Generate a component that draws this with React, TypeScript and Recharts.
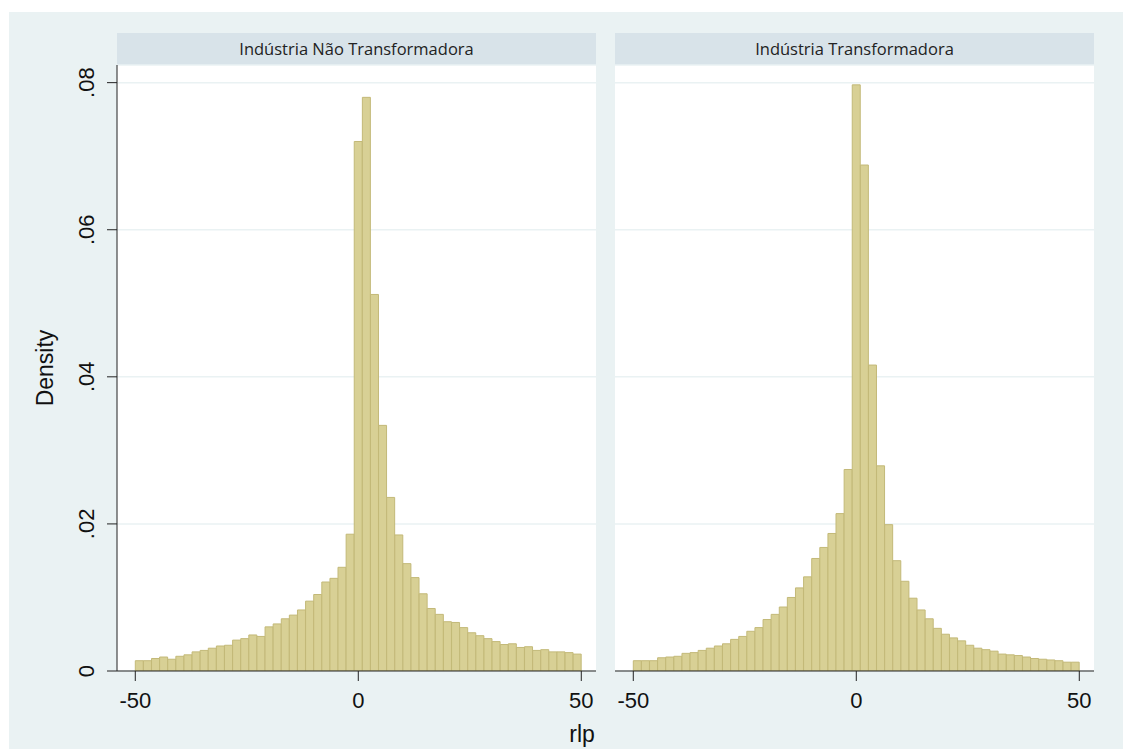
import { BarChart, Bar, XAxis, YAxis, CartesianGrid } from 'recharts';

// 55 equal bins from -50 to 50 (bin centres)
const binCenters = [
  -49.09, -47.27, -45.45, -43.64, -41.82, -40.0, -38.18, -36.36, -34.55, -32.73, -30.91,
  -29.09, -27.27, -25.45, -23.64, -21.82, -20.0, -18.18, -16.36, -14.55, -12.73, -10.91,
  -9.09, -7.27, -5.45, -3.64, -1.82, 0, 1.82, 3.64, 5.45, 7.27, 9.09, 10.91, 12.73, 14.55,
  16.36, 18.18, 20.0, 21.82, 23.64, 25.45, 27.27, 29.09, 30.91, 32.73, 34.55, 36.36, 38.18,
  40.0, 41.82, 43.64, 45.45, 47.27, 49.09,
];

const naoTransformadora = [
  0.0014, 0.0014, 0.0017, 0.0019, 0.0016, 0.002, 0.0022, 0.0026, 0.0028, 0.0031, 0.0034,
  0.0035, 0.0042, 0.0044, 0.0049, 0.0047, 0.006, 0.0064, 0.0071, 0.0076, 0.0083, 0.0095,
  0.0104, 0.0121, 0.0126, 0.0141, 0.0186, 0.072, 0.078, 0.0512, 0.0334, 0.0236, 0.0185,
  0.0146, 0.0127, 0.0105, 0.0085, 0.0077, 0.0067, 0.0066, 0.0059, 0.0052, 0.0048, 0.0044,
  0.004, 0.0036, 0.0037, 0.0032, 0.0033, 0.0028, 0.0029, 0.0026, 0.0026, 0.0025, 0.0023,
];

const transformadora = [
  0.0014, 0.0014, 0.0014, 0.0018, 0.0019, 0.002, 0.0024, 0.0025, 0.0028, 0.0031, 0.0034,
  0.0037, 0.0043, 0.0047, 0.0054, 0.0059, 0.007, 0.0077, 0.0087, 0.01, 0.0113, 0.0128,
  0.0153, 0.0168, 0.0187, 0.0214, 0.0274, 0.0797, 0.0688, 0.0416, 0.0279, 0.0199, 0.015,
  0.0122, 0.0099, 0.0083, 0.0071, 0.0058, 0.005, 0.0045, 0.0041, 0.0035, 0.0031, 0.0029,
  0.0027, 0.0023, 0.0022, 0.0021, 0.0019, 0.0017, 0.0016, 0.0015, 0.0014, 0.0012, 0.0012,
];

const xTicks = [-50, 0, 50];
const yTicks = [0, 0.02, 0.04, 0.06, 0.08];
const panelTitles = ['Indústria Não Transformadora', 'Indústria Transformadora'];

const BG = '#eaf2f3';
const STRIP = '#d8e3e9';
const BAR_FILL = '#d8d095';
const BAR_LINE = '#c3b978';
const AXIS = '#222';
const FONT = "'Liberation Sans', Arial, sans-serif";

const toRows = (values: number[]) => binCenters.map((x, i) => ({ x, density: values[i] }));

function XTick({ x, y, payload }: any) {
  return (
    <text x={x} y={y + 25} textAnchor="middle" fontSize={22} fontFamily={FONT} fill="#111">
      {payload.value}
    </text>
  );
}

function YTick({ x, y, payload }: any) {
  const label = payload.value === 0 ? '0' : String(payload.value).replace(/^0/, '');
  const bx = x - 11;
  return (
    <text
      x={bx}
      y={y}
      transform={`rotate(-90 ${bx} ${y})`}
      textAnchor="middle"
      fontSize={22}
      fontFamily={FONT}
      fill="#111"
    >
      {label}
    </text>
  );
}

function Panel({ values, withYAxis }: { values: number[]; withYAxis: boolean }) {
  return (
    <BarChart
      width={withYAxis ? 610 : 500}
      height={749}
      data={toRows(values)}
      margin={{ top: 65, right: withYAxis ? 14 : 21, left: 0, bottom: 0 }}
      barCategoryGap={0}
      barGap={0}
    >
      <CartesianGrid vertical={false} stroke={BG} strokeWidth={1.5} fill="#fff" />
      <XAxis
        dataKey="x"
        type="number"
        domain={[-54.1, 53.3]}
        ticks={xTicks}
        height={78}
        tickSize={10}
        tick={<XTick />}
        stroke={AXIS}
        interval={0}
        allowDataOverflow
      />
      <YAxis
        type="number"
        domain={[0, 0.0824]}
        ticks={yTicks}
        width={117}
        hide={!withYAxis}
        tickSize={10}
        tick={<YTick />}
        stroke={AXIS}
        interval={0}
        allowDataOverflow
      />
      <Bar
        dataKey="density"
        fill={BAR_FILL}
        stroke={BAR_LINE}
        strokeWidth={1}
        isAnimationActive={false}
      />
    </BarChart>
  );
}

export default function App() {
  return (
    <div style={{ position: 'absolute', left: 0, top: 0, width: 1123, height: 749, background: '#fff', overflow: 'hidden' }}>
      <div style={{ position: 'absolute', left: 9, top: 12, width: 1114, height: 737, background: BG }} />
      {panelTitles.map((t, i) => (
        <div
          key={t}
          style={{
            position: 'absolute',
            left: i === 0 ? 117 : 615,
            top: 33,
            width: 479,
            height: 32,
            background: STRIP,
            textAlign: 'center',
            lineHeight: '32px',
            fontSize: 16.5,
            fontFamily: "'Liberation Sans Narrow', 'Open Sans', sans-serif",
            color: '#222',
          }}
        >
          {t}
        </div>
      ))}
      <div style={{ position: 'absolute', left: 0, top: 0 }}>
        <Panel values={naoTransformadora} withYAxis />
      </div>
      <div style={{ position: 'absolute', left: 615, top: 0 }}>
        <Panel values={transformadora} withYAxis={false} />
      </div>
      <div
        style={{
          position: 'absolute',
          left: 45 - 100,
          top: 368 - 15,
          width: 200,
          height: 30,
          lineHeight: '30px',
          textAlign: 'center',
          fontSize: 23,
          fontFamily: FONT,
          color: '#111',
          transform: 'rotate(-90deg)',
        }}
      >
        Density
      </div>
      <div
        style={{
          position: 'absolute',
          left: 582 - 40,
          top: 719,
          width: 80,
          height: 30,
          lineHeight: '30px',
          textAlign: 'center',
          fontSize: 23,
          fontFamily: FONT,
          color: '#111',
        }}
      >
        rlp
      </div>
    </div>
  );
}
